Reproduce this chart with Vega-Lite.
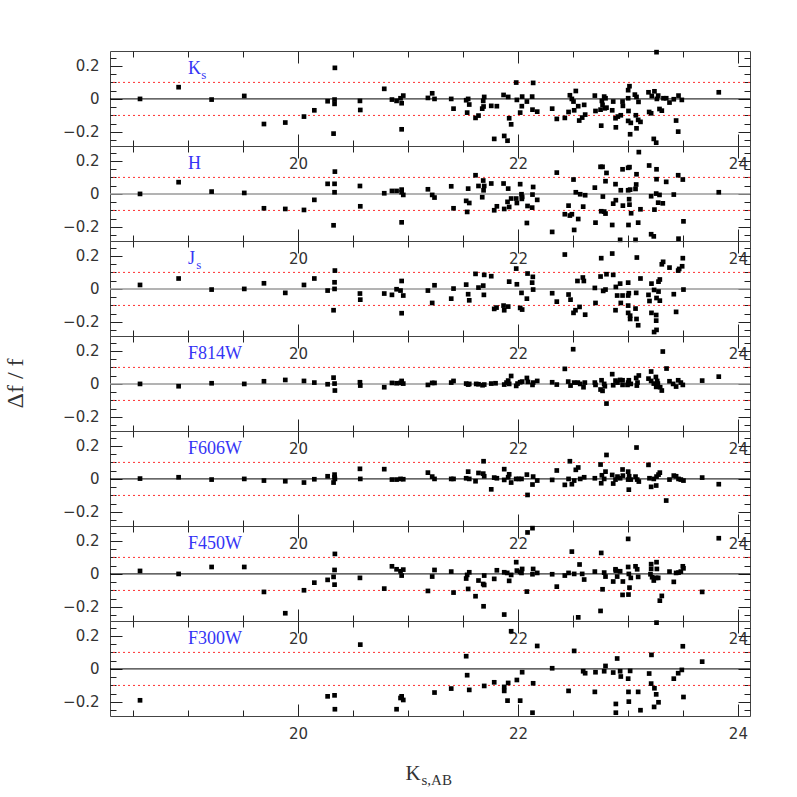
{
"$schema":"https://vega.github.io/schema/vega-lite/v6.json",
"background":"white",
"padding":{"left":2,"top":49,"right":5,"bottom":5},
"bounds":"flush",
"spacing":0,
"datasets":{"pts":[
{"b":"Ks","x":18.563,"y":0},{"b":"Ks","x":18.914,"y":0.071},{"b":"Ks","x":19.214,"y":-0.004},{"b":"Ks","x":19.511,"y":0.018},{"b":"Ks","x":19.69,"y":-0.152},{"b":"Ks","x":19.884,"y":-0.143},{"b":"Ks","x":20.054,"y":-0.107},{"b":"Ks","x":20.148,"y":-0.069},{"b":"Ks","x":20.269,"y":-0.014},{"b":"Ks","x":20.335,"y":0.188},{"b":"Ks","x":20.332,"y":-0.004},{"b":"Ks","x":20.332,"y":-0.03},{"b":"Ks","x":20.323,"y":-0.21},{"b":"Ks","x":20.563,"y":-0.012},{"b":"Ks","x":20.566,"y":-0.067},{"b":"Ks","x":20.784,"y":0.061},{"b":"Ks","x":20.854,"y":-0.004},{"b":"Ks","x":20.896,"y":-0.012},{"b":"Ks","x":20.932,"y":0.004},{"b":"Ks","x":20.957,"y":0.02},{"b":"Ks","x":20.942,"y":-0.026},{"b":"Ks","x":20.942,"y":-0.184},{"b":"Ks","x":21.181,"y":0.006},{"b":"Ks","x":21.22,"y":0.034},{"b":"Ks","x":21.241,"y":0},{"b":"Ks","x":21.393,"y":0},{"b":"Ks","x":21.414,"y":-0.059},{"b":"Ks","x":21.529,"y":-0.008},{"b":"Ks","x":21.547,"y":0},{"b":"Ks","x":21.557,"y":-0.034},{"b":"Ks","x":21.538,"y":-0.083},{"b":"Ks","x":21.614,"y":-0.115},{"b":"Ks","x":21.641,"y":-0.101},{"b":"Ks","x":21.693,"y":0.012},{"b":"Ks","x":21.684,"y":-0.012},{"b":"Ks","x":21.675,"y":-0.059},{"b":"Ks","x":21.687,"y":-0.046},{"b":"Ks","x":21.757,"y":-0.042},{"b":"Ks","x":21.808,"y":-0.044},{"b":"Ks","x":21.784,"y":-0.242},{"b":"Ks","x":21.875,"y":-0.224},{"b":"Ks","x":21.905,"y":-0.253},{"b":"Ks","x":21.869,"y":0.024},{"b":"Ks","x":21.911,"y":0.012},{"b":"Ks","x":21.92,"y":-0.117},{"b":"Ks","x":21.938,"y":-0.154},{"b":"Ks","x":21.984,"y":0.099},{"b":"Ks","x":21.99,"y":-0.006},{"b":"Ks","x":22.02,"y":-0.083},{"b":"Ks","x":22.038,"y":0.014},{"b":"Ks","x":22.035,"y":-0.044},{"b":"Ks","x":22.081,"y":-0.016},{"b":"Ks","x":22.129,"y":0.014},{"b":"Ks","x":22.138,"y":0.097},{"b":"Ks","x":22.132,"y":-0.065},{"b":"Ks","x":22.175,"y":-0.077},{"b":"Ks","x":22.311,"y":-0.059},{"b":"Ks","x":22.353,"y":-0.121},{"b":"Ks","x":22.426,"y":-0.115},{"b":"Ks","x":22.46,"y":-0.079},{"b":"Ks","x":22.472,"y":0.022},{"b":"Ks","x":22.49,"y":0},{"b":"Ks","x":22.505,"y":-0.016},{"b":"Ks","x":22.526,"y":0.048},{"b":"Ks","x":22.511,"y":-0.069},{"b":"Ks","x":22.548,"y":-0.044},{"b":"Ks","x":22.557,"y":-0.131},{"b":"Ks","x":22.584,"y":-0.113},{"b":"Ks","x":22.602,"y":-0.036},{"b":"Ks","x":22.611,"y":-0.095},{"b":"Ks","x":22.699,"y":0.02},{"b":"Ks","x":22.705,"y":-0.073},{"b":"Ks","x":22.751,"y":-0.065},{"b":"Ks","x":22.757,"y":-0.162},{"b":"Ks","x":22.763,"y":-0.012},{"b":"Ks","x":22.769,"y":-0.036},{"b":"Ks","x":22.784,"y":0.014},{"b":"Ks","x":22.796,"y":0.004},{"b":"Ks","x":22.805,"y":-0.053},{"b":"Ks","x":22.79,"y":-0.057},{"b":"Ks","x":22.866,"y":-0.016},{"b":"Ks","x":22.857,"y":-0.069},{"b":"Ks","x":22.887,"y":-0.117},{"b":"Ks","x":22.89,"y":-0.172},{"b":"Ks","x":22.908,"y":-0.107},{"b":"Ks","x":22.935,"y":-0.099},{"b":"Ks","x":22.951,"y":-0.016},{"b":"Ks","x":22.954,"y":-0.042},{"b":"Ks","x":23.002,"y":0.004},{"b":"Ks","x":23.002,"y":0.053},{"b":"Ks","x":23.014,"y":0.077},{"b":"Ks","x":23.005,"y":-0.073},{"b":"Ks","x":23.002,"y":-0.133},{"b":"Ks","x":23.02,"y":-0.214},{"b":"Ks","x":23.026,"y":-0.145},{"b":"Ks","x":23.063,"y":0.026},{"b":"Ks","x":23.072,"y":-0.099},{"b":"Ks","x":23.078,"y":0.012},{"b":"Ks","x":23.096,"y":-0.018},{"b":"Ks","x":23.093,"y":-0.127},{"b":"Ks","x":23.114,"y":-0.139},{"b":"Ks","x":23.078,"y":-0.178},{"b":"Ks","x":23.187,"y":0.04},{"b":"Ks","x":23.193,"y":-0.079},{"b":"Ks","x":23.211,"y":-0.087},{"b":"Ks","x":23.217,"y":0.018},{"b":"Ks","x":23.241,"y":0.046},{"b":"Ks","x":23.26,"y":0.283},{"b":"Ks","x":23.235,"y":-0.242},{"b":"Ks","x":23.257,"y":-0.265},{"b":"Ks","x":23.263,"y":0},{"b":"Ks","x":23.275,"y":0.02},{"b":"Ks","x":23.287,"y":-0.061},{"b":"Ks","x":23.308,"y":-0.071},{"b":"Ks","x":23.323,"y":0.004},{"b":"Ks","x":23.348,"y":0.004},{"b":"Ks","x":23.378,"y":-0.022},{"b":"Ks","x":23.417,"y":-0.002},{"b":"Ks","x":23.438,"y":-0.131},{"b":"Ks","x":23.46,"y":0.02},{"b":"Ks","x":23.457,"y":-0.198},{"b":"Ks","x":23.49,"y":-0.006},{"b":"Ks","x":23.826,"y":0.04},
{"b":"H","x":18.563,"y":0},{"b":"H","x":18.914,"y":0.071},{"b":"H","x":19.214,"y":0.014},{"b":"H","x":19.511,"y":0.006},{"b":"H","x":19.69,"y":-0.087},{"b":"H","x":19.884,"y":-0.091},{"b":"H","x":20.054,"y":-0.097},{"b":"H","x":20.148,"y":-0.036},{"b":"H","x":20.269,"y":0.061},{"b":"H","x":20.335,"y":0.135},{"b":"H","x":20.332,"y":0.061},{"b":"H","x":20.332,"y":0.01},{"b":"H","x":20.323,"y":-0.19},{"b":"H","x":20.563,"y":0.048},{"b":"H","x":20.566,"y":-0.075},{"b":"H","x":20.784,"y":0.004},{"b":"H","x":20.854,"y":0.018},{"b":"H","x":20.896,"y":0.018},{"b":"H","x":20.942,"y":0.026},{"b":"H","x":20.942,"y":0.01},{"b":"H","x":20.957,"y":-0.006},{"b":"H","x":20.942,"y":-0.172},{"b":"H","x":21.181,"y":0.028},{"b":"H","x":21.22,"y":-0.006},{"b":"H","x":21.241,"y":-0.022},{"b":"H","x":21.393,"y":0.046},{"b":"H","x":21.414,"y":-0.087},{"b":"H","x":21.529,"y":-0.042},{"b":"H","x":21.547,"y":0.032},{"b":"H","x":21.557,"y":-0.055},{"b":"H","x":21.538,"y":-0.109},{"b":"H","x":21.614,"y":0.113},{"b":"H","x":21.641,"y":0.048},{"b":"H","x":21.684,"y":0.081},{"b":"H","x":21.693,"y":0.048},{"b":"H","x":21.687,"y":0.022},{"b":"H","x":21.675,"y":-0.02},{"b":"H","x":21.757,"y":0.063},{"b":"H","x":21.784,"y":-0.099},{"b":"H","x":21.808,"y":-0.075},{"b":"H","x":21.875,"y":-0.091},{"b":"H","x":21.869,"y":0.063},{"b":"H","x":21.911,"y":0.032},{"b":"H","x":21.905,"y":-0.048},{"b":"H","x":21.92,"y":-0.079},{"b":"H","x":21.938,"y":-0.028},{"b":"H","x":21.984,"y":-0.028},{"b":"H","x":21.99,"y":-0.055},{"b":"H","x":22.02,"y":0.059},{"b":"H","x":22.032,"y":-0.002},{"b":"H","x":22.038,"y":-0.018},{"b":"H","x":22.035,"y":-0.03},{"b":"H","x":22.081,"y":-0.176},{"b":"H","x":22.087,"y":-0.073},{"b":"H","x":22.129,"y":-0.083},{"b":"H","x":22.138,"y":0.042},{"b":"H","x":22.132,"y":-0.004},{"b":"H","x":22.175,"y":-0.036},{"b":"H","x":22.311,"y":-0.23},{"b":"H","x":22.353,"y":0.129},{"b":"H","x":22.46,"y":-0.071},{"b":"H","x":22.426,"y":-0.123},{"b":"H","x":22.472,"y":-0.131},{"b":"H","x":22.49,"y":-0.123},{"b":"H","x":22.505,"y":0.087},{"b":"H","x":22.511,"y":-0.218},{"b":"H","x":22.526,"y":0.01},{"b":"H","x":22.548,"y":-0.152},{"b":"H","x":22.566,"y":-0.002},{"b":"H","x":22.593,"y":-0.077},{"b":"H","x":22.611,"y":-0.008},{"b":"H","x":22.699,"y":0.038},{"b":"H","x":22.705,"y":-0.174},{"b":"H","x":22.751,"y":0.164},{"b":"H","x":22.769,"y":0.164},{"b":"H","x":22.805,"y":0.127},{"b":"H","x":22.796,"y":0.077},{"b":"H","x":22.772,"y":-0.016},{"b":"H","x":22.757,"y":-0.105},{"b":"H","x":22.784,"y":-0.107},{"b":"H","x":22.796,"y":-0.119},{"b":"H","x":22.857,"y":-0.188},{"b":"H","x":22.866,"y":-0.059},{"b":"H","x":22.887,"y":0.059},{"b":"H","x":22.89,"y":-0.038},{"b":"H","x":22.929,"y":-0.278},{"b":"H","x":22.935,"y":0.022},{"b":"H","x":22.951,"y":0.149},{"b":"H","x":22.954,"y":-0.071},{"b":"H","x":23.002,"y":0.158},{"b":"H","x":23.014,"y":0.162},{"b":"H","x":23.002,"y":0.022},{"b":"H","x":23.02,"y":0.026},{"b":"H","x":23.011,"y":-0.032},{"b":"H","x":23.014,"y":-0.065},{"b":"H","x":23.029,"y":-0.117},{"b":"H","x":23.005,"y":-0.188},{"b":"H","x":23.069,"y":-0.278},{"b":"H","x":23.078,"y":0.119},{"b":"H","x":23.075,"y":0.057},{"b":"H","x":23.069,"y":0.03},{"b":"H","x":23.093,"y":-0.174},{"b":"H","x":23.114,"y":-0.093},{"b":"H","x":23.099,"y":0.253},{"b":"H","x":23.193,"y":0.172},{"b":"H","x":23.211,"y":-0.014},{"b":"H","x":23.211,"y":-0.244},{"b":"H","x":23.235,"y":-0.257},{"b":"H","x":23.241,"y":-0.095},{"b":"H","x":23.257,"y":0.002},{"b":"H","x":23.26,"y":0.149},{"b":"H","x":23.26,"y":0.089},{"b":"H","x":23.275,"y":-0.053},{"b":"H","x":23.287,"y":-0.006},{"b":"H","x":23.317,"y":-0.057},{"b":"H","x":23.348,"y":0.073},{"b":"H","x":23.417,"y":-0.004},{"b":"H","x":23.457,"y":0.113},{"b":"H","x":23.46,"y":-0.271},{"b":"H","x":23.499,"y":0.087},{"b":"H","x":23.505,"y":-0.166},{"b":"H","x":23.826,"y":0.01},
{"b":"Js","x":18.563,"y":0.024},{"b":"Js","x":18.914,"y":0.063},{"b":"Js","x":19.214,"y":-0.004},{"b":"Js","x":19.511,"y":0},{"b":"Js","x":19.69,"y":0.034},{"b":"Js","x":19.884,"y":-0.024},{"b":"Js","x":20.054,"y":0.024},{"b":"Js","x":20.148,"y":0.063},{"b":"Js","x":20.269,"y":-0.01},{"b":"Js","x":20.335,"y":0.111},{"b":"Js","x":20.332,"y":0.04},{"b":"Js","x":20.332,"y":0},{"b":"Js","x":20.323,"y":-0.129},{"b":"Js","x":20.563,"y":-0.028},{"b":"Js","x":20.566,"y":-0.065},{"b":"Js","x":20.784,"y":-0.028},{"b":"Js","x":20.854,"y":-0.036},{"b":"Js","x":20.896,"y":-0.002},{"b":"Js","x":20.932,"y":-0.01},{"b":"Js","x":20.942,"y":0.048},{"b":"Js","x":20.957,"y":-0.04},{"b":"Js","x":20.942,"y":-0.147},{"b":"Js","x":21.181,"y":-0.01},{"b":"Js","x":21.22,"y":-0.085},{"b":"Js","x":21.241,"y":0.022},{"b":"Js","x":21.393,"y":-0.059},{"b":"Js","x":21.414,"y":0.002},{"b":"Js","x":21.529,"y":0.026},{"b":"Js","x":21.547,"y":-0.032},{"b":"Js","x":21.557,"y":-0.069},{"b":"Js","x":21.614,"y":0.091},{"b":"Js","x":21.641,"y":0.008},{"b":"Js","x":21.684,"y":0.02},{"b":"Js","x":21.693,"y":0.085},{"b":"Js","x":21.69,"y":-0.036},{"b":"Js","x":21.757,"y":0.077},{"b":"Js","x":21.784,"y":-0.121},{"b":"Js","x":21.805,"y":-0.113},{"b":"Js","x":21.875,"y":-0.129},{"b":"Js","x":21.869,"y":-0.101},{"b":"Js","x":21.911,"y":-0.107},{"b":"Js","x":21.92,"y":0.044},{"b":"Js","x":21.984,"y":0.123},{"b":"Js","x":21.99,"y":0.028},{"b":"Js","x":22.02,"y":-0.115},{"b":"Js","x":22.032,"y":-0.024},{"b":"Js","x":22.038,"y":-0.125},{"b":"Js","x":22.081,"y":-0.059},{"b":"Js","x":22.087,"y":0.093},{"b":"Js","x":22.129,"y":0.038},{"b":"Js","x":22.135,"y":0.073},{"b":"Js","x":22.138,"y":-0.004},{"b":"Js","x":22.311,"y":-0.026},{"b":"Js","x":22.353,"y":-0.077},{"b":"Js","x":22.426,"y":0.208},{"b":"Js","x":22.46,"y":-0.034},{"b":"Js","x":22.478,"y":-0.065},{"b":"Js","x":22.505,"y":-0.145},{"b":"Js","x":22.523,"y":-0.129},{"b":"Js","x":22.56,"y":-0.109},{"b":"Js","x":22.541,"y":0.048},{"b":"Js","x":22.59,"y":0.069},{"b":"Js","x":22.599,"y":0.048},{"b":"Js","x":22.611,"y":-0.156},{"b":"Js","x":22.699,"y":0.006},{"b":"Js","x":22.705,"y":-0.085},{"b":"Js","x":22.751,"y":0.075},{"b":"Js","x":22.757,"y":0.186},{"b":"Js","x":22.775,"y":-0.012},{"b":"Js","x":22.796,"y":-0.004},{"b":"Js","x":22.805,"y":0.089},{"b":"Js","x":22.857,"y":0.214},{"b":"Js","x":22.866,"y":0.085},{"b":"Js","x":22.887,"y":-0.129},{"b":"Js","x":22.89,"y":0.012},{"b":"Js","x":22.902,"y":-0.04},{"b":"Js","x":22.935,"y":-0.085},{"b":"Js","x":22.951,"y":-0.04},{"b":"Js","x":22.929,"y":0.032},{"b":"Js","x":23.002,"y":0.038},{"b":"Js","x":23.002,"y":-0.04},{"b":"Js","x":23.008,"y":-0.026},{"b":"Js","x":23.002,"y":-0.101},{"b":"Js","x":23.002,"y":-0.145},{"b":"Js","x":23.02,"y":-0.162},{"b":"Js","x":23.02,"y":-0.182},{"b":"Js","x":23.069,"y":-0.119},{"b":"Js","x":23.075,"y":-0.024},{"b":"Js","x":23.081,"y":0.19},{"b":"Js","x":23.078,"y":-0.182},{"b":"Js","x":23.093,"y":-0.22},{"b":"Js","x":23.114,"y":0.063},{"b":"Js","x":23.187,"y":-0.036},{"b":"Js","x":23.196,"y":-0.073},{"b":"Js","x":23.214,"y":0.032},{"b":"Js","x":23.214,"y":-0.145},{"b":"Js","x":23.238,"y":-0.006},{"b":"Js","x":23.257,"y":-0.158},{"b":"Js","x":23.26,"y":-0.055},{"b":"Js","x":23.257,"y":-0.192},{"b":"Js","x":23.238,"y":-0.261},{"b":"Js","x":23.26,"y":-0.248},{"b":"Js","x":23.278,"y":-0.016},{"b":"Js","x":23.278,"y":0.044},{"b":"Js","x":23.29,"y":0.057},{"b":"Js","x":23.29,"y":-0.071},{"b":"Js","x":23.308,"y":0.149},{"b":"Js","x":23.32,"y":0.164},{"b":"Js","x":23.378,"y":0.129},{"b":"Js","x":23.417,"y":-0.032},{"b":"Js","x":23.438,"y":-0.139},{"b":"Js","x":23.457,"y":0.111},{"b":"Js","x":23.466,"y":0.121},{"b":"Js","x":23.493,"y":0.137},{"b":"Js","x":23.499,"y":0.186},{"b":"Js","x":23.505,"y":-0.004},
{"b":"F814W","x":18.563,"y":0},{"b":"F814W","x":18.914,"y":-0.014},{"b":"F814W","x":19.214,"y":0.004},{"b":"F814W","x":19.511,"y":0},{"b":"F814W","x":19.69,"y":0.016},{"b":"F814W","x":19.884,"y":0.024},{"b":"F814W","x":20.054,"y":0.018},{"b":"F814W","x":20.148,"y":0.008},{"b":"F814W","x":20.269,"y":-0.002},{"b":"F814W","x":20.323,"y":0.038},{"b":"F814W","x":20.332,"y":0.002},{"b":"F814W","x":20.335,"y":-0.04},{"b":"F814W","x":20.563,"y":0.01},{"b":"F814W","x":20.566,"y":-0.01},{"b":"F814W","x":20.784,"y":-0.02},{"b":"F814W","x":20.854,"y":0.006},{"b":"F814W","x":20.896,"y":0.004},{"b":"F814W","x":20.932,"y":0.006},{"b":"F814W","x":20.942,"y":0.018},{"b":"F814W","x":20.957,"y":0.002},{"b":"F814W","x":21.181,"y":-0.006},{"b":"F814W","x":21.22,"y":0.006},{"b":"F814W","x":21.241,"y":0.006},{"b":"F814W","x":21.393,"y":0.008},{"b":"F814W","x":21.414,"y":0.018},{"b":"F814W","x":21.529,"y":0.002},{"b":"F814W","x":21.547,"y":-0.004},{"b":"F814W","x":21.557,"y":0},{"b":"F814W","x":21.62,"y":0},{"b":"F814W","x":21.641,"y":-0.002},{"b":"F814W","x":21.678,"y":-0.008},{"b":"F814W","x":21.693,"y":-0.004},{"b":"F814W","x":21.757,"y":0.002},{"b":"F814W","x":21.796,"y":0.004},{"b":"F814W","x":21.875,"y":-0.004},{"b":"F814W","x":21.896,"y":0.008},{"b":"F814W","x":21.92,"y":0},{"b":"F814W","x":21.938,"y":0.048},{"b":"F814W","x":21.911,"y":0.02},{"b":"F814W","x":21.984,"y":-0.012},{"b":"F814W","x":21.996,"y":0.002},{"b":"F814W","x":22.02,"y":0.01},{"b":"F814W","x":22.038,"y":0.014},{"b":"F814W","x":22.081,"y":0.036},{"b":"F814W","x":22.09,"y":0.012},{"b":"F814W","x":22.132,"y":-0.006},{"b":"F814W","x":22.138,"y":0.008},{"b":"F814W","x":22.175,"y":0.018},{"b":"F814W","x":22.311,"y":0.01},{"b":"F814W","x":22.353,"y":-0.004},{"b":"F814W","x":22.426,"y":0.091},{"b":"F814W","x":22.457,"y":0.014},{"b":"F814W","x":22.478,"y":-0.01},{"b":"F814W","x":22.502,"y":0.21},{"b":"F814W","x":22.511,"y":0.008},{"b":"F814W","x":22.544,"y":0.008},{"b":"F814W","x":22.566,"y":0},{"b":"F814W","x":22.596,"y":-0.02},{"b":"F814W","x":22.608,"y":0.008},{"b":"F814W","x":22.699,"y":0.008},{"b":"F814W","x":22.705,"y":-0.006},{"b":"F814W","x":22.751,"y":-0.034},{"b":"F814W","x":22.76,"y":0.022},{"b":"F814W","x":22.769,"y":-0.042},{"b":"F814W","x":22.784,"y":0},{"b":"F814W","x":22.79,"y":-0.014},{"b":"F814W","x":22.805,"y":-0.119},{"b":"F814W","x":22.857,"y":0.059},{"b":"F814W","x":22.866,"y":-0.008},{"b":"F814W","x":22.887,"y":0.02},{"b":"F814W","x":22.905,"y":0.008},{"b":"F814W","x":22.929,"y":0.024},{"b":"F814W","x":22.951,"y":0.022},{"b":"F814W","x":22.951,"y":-0.006},{"b":"F814W","x":23.002,"y":0.008},{"b":"F814W","x":23.008,"y":0.022},{"b":"F814W","x":22.996,"y":-0.006},{"b":"F814W","x":23.026,"y":0},{"b":"F814W","x":23.075,"y":0.036},{"b":"F814W","x":23.081,"y":-0.01},{"b":"F814W","x":23.087,"y":0.008},{"b":"F814W","x":23.099,"y":0.051},{"b":"F814W","x":23.187,"y":0.032},{"b":"F814W","x":23.211,"y":0.075},{"b":"F814W","x":23.211,"y":0.018},{"b":"F814W","x":23.235,"y":0.002},{"b":"F814W","x":23.254,"y":0.042},{"b":"F814W","x":23.257,"y":-0.018},{"b":"F814W","x":23.266,"y":0.018},{"b":"F814W","x":23.272,"y":0.002},{"b":"F814W","x":23.293,"y":-0.02},{"b":"F814W","x":23.308,"y":-0.04},{"b":"F814W","x":23.317,"y":0.196},{"b":"F814W","x":23.351,"y":0.093},{"b":"F814W","x":23.378,"y":0.016},{"b":"F814W","x":23.411,"y":0},{"b":"F814W","x":23.438,"y":-0.016},{"b":"F814W","x":23.457,"y":0.022},{"b":"F814W","x":23.481,"y":0.008},{"b":"F814W","x":23.499,"y":-0.006},{"b":"F814W","x":23.675,"y":0.02},{"b":"F814W","x":23.826,"y":0.044},
{"b":"F606W","x":18.563,"y":0.002},{"b":"F606W","x":18.914,"y":0.01},{"b":"F606W","x":19.214,"y":-0.004},{"b":"F606W","x":19.511,"y":0},{"b":"F606W","x":19.69,"y":-0.01},{"b":"F606W","x":19.884,"y":-0.014},{"b":"F606W","x":20.054,"y":-0.022},{"b":"F606W","x":20.148,"y":-0.002},{"b":"F606W","x":20.269,"y":0.016},{"b":"F606W","x":20.332,"y":0.026},{"b":"F606W","x":20.332,"y":0.01},{"b":"F606W","x":20.335,"y":0},{"b":"F606W","x":20.323,"y":-0.022},{"b":"F606W","x":20.563,"y":0.061},{"b":"F606W","x":20.566,"y":0},{"b":"F606W","x":20.784,"y":0.059},{"b":"F606W","x":20.854,"y":-0.004},{"b":"F606W","x":20.896,"y":-0.004},{"b":"F606W","x":20.932,"y":0},{"b":"F606W","x":20.957,"y":-0.002},{"b":"F606W","x":21.181,"y":0.038},{"b":"F606W","x":21.22,"y":0.014},{"b":"F606W","x":21.241,"y":0},{"b":"F606W","x":21.393,"y":0},{"b":"F606W","x":21.414,"y":0},{"b":"F606W","x":21.529,"y":0.004},{"b":"F606W","x":21.547,"y":0.044},{"b":"F606W","x":21.557,"y":0},{"b":"F606W","x":21.614,"y":-0.014},{"b":"F606W","x":21.641,"y":0.036},{"b":"F606W","x":21.687,"y":0.107},{"b":"F606W","x":21.684,"y":0.032},{"b":"F606W","x":21.693,"y":0.016},{"b":"F606W","x":21.757,"y":-0.063},{"b":"F606W","x":21.784,"y":0.008},{"b":"F606W","x":21.808,"y":0.004},{"b":"F606W","x":21.875,"y":0.059},{"b":"F606W","x":21.875,"y":-0.006},{"b":"F606W","x":21.911,"y":0.01},{"b":"F606W","x":21.92,"y":0.028},{"b":"F606W","x":21.938,"y":-0.022},{"b":"F606W","x":21.984,"y":0},{"b":"F606W","x":22.008,"y":0},{"b":"F606W","x":22.032,"y":0},{"b":"F606W","x":22.081,"y":0.026},{"b":"F606W","x":22.087,"y":-0.097},{"b":"F606W","x":22.132,"y":-0.034},{"b":"F606W","x":22.138,"y":0.014},{"b":"F606W","x":22.175,"y":-0.01},{"b":"F606W","x":22.311,"y":-0.006},{"b":"F606W","x":22.353,"y":0.051},{"b":"F606W","x":22.426,"y":-0.036},{"b":"F606W","x":22.46,"y":0},{"b":"F606W","x":22.472,"y":0.107},{"b":"F606W","x":22.49,"y":-0.032},{"b":"F606W","x":22.511,"y":-0.01},{"b":"F606W","x":22.526,"y":0.055},{"b":"F606W","x":22.548,"y":0.069},{"b":"F606W","x":22.566,"y":0},{"b":"F606W","x":22.602,"y":0.01},{"b":"F606W","x":22.699,"y":0.004},{"b":"F606W","x":22.751,"y":0.087},{"b":"F606W","x":22.757,"y":-0.026},{"b":"F606W","x":22.763,"y":0.022},{"b":"F606W","x":22.784,"y":0},{"b":"F606W","x":22.796,"y":0.044},{"b":"F606W","x":22.805,"y":0.145},{"b":"F606W","x":22.857,"y":0.024},{"b":"F606W","x":22.866,"y":-0.028},{"b":"F606W","x":22.887,"y":-0.004},{"b":"F606W","x":22.905,"y":0.014},{"b":"F606W","x":22.929,"y":0.004},{"b":"F606W","x":22.951,"y":0.057},{"b":"F606W","x":22.954,"y":0.02},{"b":"F606W","x":23.002,"y":0.044},{"b":"F606W","x":23.002,"y":-0.004},{"b":"F606W","x":23.011,"y":0.016},{"b":"F606W","x":23.008,"y":-0.065},{"b":"F606W","x":23.026,"y":-0.004},{"b":"F606W","x":23.069,"y":0.014},{"b":"F606W","x":23.078,"y":0.19},{"b":"F606W","x":23.084,"y":-0.004},{"b":"F606W","x":23.099,"y":-0.016},{"b":"F606W","x":23.187,"y":0.085},{"b":"F606W","x":23.196,"y":0.004},{"b":"F606W","x":23.211,"y":-0.048},{"b":"F606W","x":23.235,"y":0},{"b":"F606W","x":23.257,"y":-0.04},{"b":"F606W","x":23.26,"y":0.014},{"b":"F606W","x":23.278,"y":0.026},{"b":"F606W","x":23.29,"y":0.038},{"b":"F606W","x":23.348,"y":-0.131},{"b":"F606W","x":23.378,"y":-0.004},{"b":"F606W","x":23.417,"y":0.02},{"b":"F606W","x":23.438,"y":0.016},{"b":"F606W","x":23.46,"y":0},{"b":"F606W","x":23.481,"y":-0.004},{"b":"F606W","x":23.505,"y":-0.01},{"b":"F606W","x":23.675,"y":0.008},{"b":"F606W","x":23.826,"y":-0.032},
{"b":"F450W","x":18.563,"y":0.018},{"b":"F450W","x":18.914,"y":0},{"b":"F450W","x":19.214,"y":0.042},{"b":"F450W","x":19.511,"y":0.042},{"b":"F450W","x":19.69,"y":-0.109},{"b":"F450W","x":19.884,"y":-0.238},{"b":"F450W","x":20.054,"y":-0.099},{"b":"F450W","x":20.148,"y":-0.053},{"b":"F450W","x":20.269,"y":-0.036},{"b":"F450W","x":20.335,"y":0.121},{"b":"F450W","x":20.332,"y":0.024},{"b":"F450W","x":20.323,"y":-0.018},{"b":"F450W","x":20.332,"y":-0.065},{"b":"F450W","x":20.563,"y":-0.024},{"b":"F450W","x":20.784,"y":-0.089},{"b":"F450W","x":20.854,"y":0.046},{"b":"F450W","x":20.896,"y":0.028},{"b":"F450W","x":20.932,"y":0.016},{"b":"F450W","x":20.957,"y":0.026},{"b":"F450W","x":20.942,"y":-0.01},{"b":"F450W","x":21.181,"y":-0.103},{"b":"F450W","x":21.22,"y":-0.016},{"b":"F450W","x":21.241,"y":0.024},{"b":"F450W","x":21.393,"y":0.014},{"b":"F450W","x":21.414,"y":-0.113},{"b":"F450W","x":21.529,"y":-0.028},{"b":"F450W","x":21.547,"y":-0.091},{"b":"F450W","x":21.557,"y":0.01},{"b":"F450W","x":21.538,"y":-0.006},{"b":"F450W","x":21.614,"y":-0.135},{"b":"F450W","x":21.641,"y":-0.04},{"b":"F450W","x":21.684,"y":-0.061},{"b":"F450W","x":21.687,"y":-0.196},{"b":"F450W","x":21.693,"y":-0.01},{"b":"F450W","x":21.693,"y":-0.067},{"b":"F450W","x":21.784,"y":-0.03},{"b":"F450W","x":21.808,"y":0.022},{"b":"F450W","x":21.875,"y":-0.246},{"b":"F450W","x":21.875,"y":0.01},{"b":"F450W","x":21.902,"y":0.006},{"b":"F450W","x":21.92,"y":-0.042},{"b":"F450W","x":21.938,"y":-0.006},{"b":"F450W","x":21.984,"y":0.071},{"b":"F450W","x":21.99,"y":0.02},{"b":"F450W","x":22.02,"y":0.012},{"b":"F450W","x":22.038,"y":0.03},{"b":"F450W","x":22.032,"y":0.006},{"b":"F450W","x":22.081,"y":-0.107},{"b":"F450W","x":22.087,"y":0.251},{"b":"F450W","x":22.132,"y":0.277},{"b":"F450W","x":22.138,"y":0.03},{"b":"F450W","x":22.132,"y":-0.002},{"b":"F450W","x":22.175,"y":0.006},{"b":"F450W","x":22.311,"y":-0.002},{"b":"F450W","x":22.353,"y":-0.077},{"b":"F450W","x":22.426,"y":-0.01},{"b":"F450W","x":22.46,"y":0.006},{"b":"F450W","x":22.49,"y":0.135},{"b":"F450W","x":22.511,"y":0},{"b":"F450W","x":22.548,"y":-0.263},{"b":"F450W","x":22.56,"y":0.057},{"b":"F450W","x":22.584,"y":0},{"b":"F450W","x":22.602,"y":-0.034},{"b":"F450W","x":22.699,"y":0.014},{"b":"F450W","x":22.751,"y":-0.224},{"b":"F450W","x":22.757,"y":0.127},{"b":"F450W","x":22.769,"y":-0.093},{"b":"F450W","x":22.784,"y":0.008},{"b":"F450W","x":22.796,"y":-0.016},{"b":"F450W","x":22.866,"y":-0.046},{"b":"F450W","x":22.887,"y":0.028},{"b":"F450W","x":22.89,"y":0.02},{"b":"F450W","x":22.902,"y":-0.016},{"b":"F450W","x":22.929,"y":0.016},{"b":"F450W","x":22.951,"y":-0.127},{"b":"F450W","x":22.954,"y":-0.046},{"b":"F450W","x":23.002,"y":0.212},{"b":"F450W","x":23.002,"y":0.042},{"b":"F450W","x":23.008,"y":0},{"b":"F450W","x":23.005,"y":-0.125},{"b":"F450W","x":23.014,"y":-0.083},{"b":"F450W","x":23.026,"y":-0.024},{"b":"F450W","x":23.069,"y":0.046},{"b":"F450W","x":23.084,"y":0.028},{"b":"F450W","x":23.093,"y":-0.018},{"b":"F450W","x":23.211,"y":0.059},{"b":"F450W","x":23.211,"y":0.03},{"b":"F450W","x":23.205,"y":-0.002},{"b":"F450W","x":23.22,"y":-0.02},{"b":"F450W","x":23.235,"y":-0.04},{"b":"F450W","x":23.26,"y":0.071},{"b":"F450W","x":23.263,"y":0.03},{"b":"F450W","x":23.257,"y":-0.024},{"b":"F450W","x":23.275,"y":-0.024},{"b":"F450W","x":23.29,"y":-0.162},{"b":"F450W","x":23.308,"y":-0.133},{"b":"F450W","x":23.378,"y":0.014},{"b":"F450W","x":23.417,"y":-0.048},{"b":"F450W","x":23.438,"y":0.006},{"b":"F450W","x":23.46,"y":0.008},{"b":"F450W","x":23.481,"y":0.014},{"b":"F450W","x":23.499,"y":0.046},{"b":"F450W","x":23.505,"y":0.034},{"b":"F450W","x":23.675,"y":-0.109},{"b":"F450W","x":23.826,"y":0.216},
{"b":"F300W","x":18.563,"y":-0.19},{"b":"F300W","x":20.269,"y":-0.166},{"b":"F300W","x":20.332,"y":-0.16},{"b":"F300W","x":20.335,"y":-0.244},{"b":"F300W","x":20.566,"y":0.147},{"b":"F300W","x":20.896,"y":-0.244},{"b":"F300W","x":20.932,"y":-0.176},{"b":"F300W","x":20.942,"y":-0.166},{"b":"F300W","x":20.957,"y":-0.188},{"b":"F300W","x":21.241,"y":-0.143},{"b":"F300W","x":21.393,"y":-0.119},{"b":"F300W","x":21.529,"y":0.077},{"b":"F300W","x":21.538,"y":-0.038},{"b":"F300W","x":21.557,"y":-0.127},{"b":"F300W","x":21.693,"y":-0.103},{"b":"F300W","x":21.784,"y":-0.081},{"b":"F300W","x":21.875,"y":-0.133},{"b":"F300W","x":21.875,"y":-0.109},{"b":"F300W","x":21.911,"y":-0.085},{"b":"F300W","x":21.905,"y":-0.192},{"b":"F300W","x":21.938,"y":0.228},{"b":"F300W","x":21.99,"y":-0.067},{"b":"F300W","x":22.02,"y":-0.192},{"b":"F300W","x":22.038,"y":-0.02},{"b":"F300W","x":22.132,"y":-0.265},{"b":"F300W","x":22.138,"y":-0.087},{"b":"F300W","x":22.175,"y":0.139},{"b":"F300W","x":22.311,"y":0.004},{"b":"F300W","x":22.46,"y":-0.133},{"b":"F300W","x":22.511,"y":0.109},{"b":"F300W","x":22.593,"y":-0.014},{"b":"F300W","x":22.611,"y":-0.026},{"b":"F300W","x":22.699,"y":-0.139},{"b":"F300W","x":22.705,"y":-0.02},{"b":"F300W","x":22.784,"y":-0.014},{"b":"F300W","x":22.796,"y":0.018},{"b":"F300W","x":22.866,"y":-0.022},{"b":"F300W","x":22.89,"y":-0.212},{"b":"F300W","x":22.89,"y":-0.265},{"b":"F300W","x":22.902,"y":0.063},{"b":"F300W","x":22.929,"y":-0.014},{"b":"F300W","x":22.935,"y":-0.046},{"b":"F300W","x":23.002,"y":-0.059},{"b":"F300W","x":23.005,"y":-0.139},{"b":"F300W","x":23.008,"y":-0.198},{"b":"F300W","x":23.02,"y":-0.012},{"b":"F300W","x":23.093,"y":-0.139},{"b":"F300W","x":23.114,"y":-0.25},{"b":"F300W","x":23.193,"y":-0.028},{"b":"F300W","x":23.211,"y":-0.089},{"b":"F300W","x":23.214,"y":0.085},{"b":"F300W","x":23.238,"y":-0.23},{"b":"F300W","x":23.241,"y":-0.117},{"b":"F300W","x":23.257,"y":-0.154},{"b":"F300W","x":23.278,"y":-0.202},{"b":"F300W","x":23.26,"y":0.28},{"b":"F300W","x":23.417,"y":-0.059},{"b":"F300W","x":23.457,"y":-0.026},{"b":"F300W","x":23.49,"y":-0.006},{"b":"F300W","x":23.499,"y":0.137},{"b":"F300W","x":23.505,"y":-0.17},{"b":"F300W","x":23.675,"y":0.044}
]},
"vconcat":[
{"width":640,"height":95,"resolve":{"axis":{"x":"independent","y":"independent"}},"layer":[
{"data":{"values":[{"v":0.1},{"v":-0.1}]},"mark":{"type":"rule","color":"#ff3030","strokeDash":[2,3],"strokeWidth":1},"encoding":{"y":{"field":"v","type":"quantitative","axis":null,"scale":{"domain":[-0.285,0.29],"nice":false,"zero":false}}}},
{"data":{"values":[{"v":0}]},"mark":{"type":"rule","color":"#000000","strokeWidth":1},"encoding":{"y":{"field":"v","type":"quantitative","axis":null}}},
{"data":{"name":"pts"},"transform":[{"filter":"datum.b=='Ks'"}],"mark":{"type":"square","size":22,"color":"#000000","opacity":1,"strokeWidth":0},"encoding":{"x":{"field":"x","type":"quantitative","scale":{"domain":[18.29,24.11],"nice":false,"zero":false},"axis":{"orient":"bottom","title":null,"values":[18.5,19,19.5,20,20.5,21,21.5,22,22.5,23,23.5,24],"labelExpr":"datum.value==20?'20':datum.value==22?'22':datum.value==24?'24':''","tickSize":{"condition":{"test":"datum.value==20||datum.value==22||datum.value==24","value":-12},"value":-6},"labelPadding":22}},"y":{"field":"y","type":"quantitative","scale":{"domain":[-0.285,0.29],"nice":false,"zero":false},"axis":{"orient":"left","title":null,"values":[-0.25,-0.2,-0.15,-0.1,-0.05,0,0.05,0.1,0.15,0.2,0.25],"labelExpr":"datum.value==0?'0':datum.value==0.2?'0.2':datum.value==-0.2?'−0.2':''","tickSize":{"condition":{"test":"datum.value==0||abs(datum.value)==0.2","value":-12},"value":-6},"labelPadding":23}}}},
{"data":{"name":"pts"},"transform":[{"filter":"datum.b=='Ks'"}],"mark":{"type":"square","size":22,"opacity":0},"encoding":{"x":{"field":"x","type":"quantitative","axis":{"orient":"top","title":null,"labels":false,"values":[18.5,19,19.5,20,20.5,21,21.5,22,22.5,23,23.5,24],"tickSize":{"condition":{"test":"datum.value==20||datum.value==22||datum.value==24","value":-12},"value":-6}}},"y":{"field":"y","type":"quantitative","axis":{"orient":"right","title":null,"labels":false,"values":[-0.25,-0.2,-0.15,-0.1,-0.05,0,0.05,0.1,0.15,0.2,0.25],"tickSize":{"condition":{"test":"datum.value==0||abs(datum.value)==0.2","value":-12},"value":-6}}}}},
{"data":{"values":[{"t":"K"}]},"mark":{"type":"text","font":"Liberation Serif","fontSize":18,"color":"#3535f5","align":"left","baseline":"alphabetic"},"encoding":{"text":{"field":"t"},"x":{"datum":19.0,"axis":null},"y":{"datum":0.148,"axis":null}}},
{"data":{"values":[{"t":"s"}]},"mark":{"type":"text","font":"Liberation Serif","fontSize":13,"color":"#3535f5","align":"left","baseline":"alphabetic"},"encoding":{"text":{"field":"t"},"x":{"datum":19.12,"axis":null},"y":{"datum":0.118,"axis":null}}}
]},
{"width":640,"height":95,"resolve":{"axis":{"x":"independent","y":"independent"}},"layer":[
{"data":{"values":[{"v":0.1},{"v":-0.1}]},"mark":{"type":"rule","color":"#ff3030","strokeDash":[2,3],"strokeWidth":1},"encoding":{"y":{"field":"v","type":"quantitative","axis":null,"scale":{"domain":[-0.285,0.29],"nice":false,"zero":false}}}},
{"data":{"values":[{"v":0}]},"mark":{"type":"rule","color":"#9a9a9a","strokeWidth":1.5},"encoding":{"y":{"field":"v","type":"quantitative","axis":null}}},
{"data":{"name":"pts"},"transform":[{"filter":"datum.b=='H'"}],"mark":{"type":"square","size":22,"color":"#000000","opacity":1,"strokeWidth":0},"encoding":{"x":{"field":"x","type":"quantitative","scale":{"domain":[18.29,24.11],"nice":false,"zero":false},"axis":{"orient":"bottom","title":null,"values":[18.5,19,19.5,20,20.5,21,21.5,22,22.5,23,23.5,24],"labelExpr":"datum.value==20?'20':datum.value==22?'22':datum.value==24?'24':''","tickSize":{"condition":{"test":"datum.value==20||datum.value==22||datum.value==24","value":-12},"value":-6},"labelPadding":22}},"y":{"field":"y","type":"quantitative","scale":{"domain":[-0.285,0.29],"nice":false,"zero":false},"axis":{"orient":"left","title":null,"values":[-0.25,-0.2,-0.15,-0.1,-0.05,0,0.05,0.1,0.15,0.2,0.25],"labelExpr":"datum.value==0?'0':datum.value==0.2?'0.2':datum.value==-0.2?'−0.2':''","tickSize":{"condition":{"test":"datum.value==0||abs(datum.value)==0.2","value":-12},"value":-6},"labelPadding":23}}}},
{"data":{"name":"pts"},"transform":[{"filter":"datum.b=='H'"}],"mark":{"type":"square","size":22,"opacity":0},"encoding":{"x":{"field":"x","type":"quantitative","axis":{"orient":"top","title":null,"labels":false,"values":[18.5,19,19.5,20,20.5,21,21.5,22,22.5,23,23.5,24],"tickSize":{"condition":{"test":"datum.value==20||datum.value==22||datum.value==24","value":-12},"value":-6}}},"y":{"field":"y","type":"quantitative","axis":{"orient":"right","title":null,"labels":false,"values":[-0.25,-0.2,-0.15,-0.1,-0.05,0,0.05,0.1,0.15,0.2,0.25],"tickSize":{"condition":{"test":"datum.value==0||abs(datum.value)==0.2","value":-12},"value":-6}}}}},
{"data":{"values":[{"t":"H"}]},"mark":{"type":"text","font":"Liberation Serif","fontSize":18,"color":"#3535f5","align":"left","baseline":"alphabetic"},"encoding":{"text":{"field":"t"},"x":{"datum":19.0,"axis":null},"y":{"datum":0.148,"axis":null}}}
]},
{"width":640,"height":95,"resolve":{"axis":{"x":"independent","y":"independent"}},"layer":[
{"data":{"values":[{"v":0.1},{"v":-0.1}]},"mark":{"type":"rule","color":"#ff3030","strokeDash":[2,3],"strokeWidth":1},"encoding":{"y":{"field":"v","type":"quantitative","axis":null,"scale":{"domain":[-0.285,0.29],"nice":false,"zero":false}}}},
{"data":{"values":[{"v":0}]},"mark":{"type":"rule","color":"#9a9a9a","strokeWidth":1.5},"encoding":{"y":{"field":"v","type":"quantitative","axis":null}}},
{"data":{"name":"pts"},"transform":[{"filter":"datum.b=='Js'"}],"mark":{"type":"square","size":22,"color":"#000000","opacity":1,"strokeWidth":0},"encoding":{"x":{"field":"x","type":"quantitative","scale":{"domain":[18.29,24.11],"nice":false,"zero":false},"axis":{"orient":"bottom","title":null,"values":[18.5,19,19.5,20,20.5,21,21.5,22,22.5,23,23.5,24],"labelExpr":"datum.value==20?'20':datum.value==22?'22':datum.value==24?'24':''","tickSize":{"condition":{"test":"datum.value==20||datum.value==22||datum.value==24","value":-12},"value":-6},"labelPadding":22}},"y":{"field":"y","type":"quantitative","scale":{"domain":[-0.285,0.29],"nice":false,"zero":false},"axis":{"orient":"left","title":null,"values":[-0.25,-0.2,-0.15,-0.1,-0.05,0,0.05,0.1,0.15,0.2,0.25],"labelExpr":"datum.value==0?'0':datum.value==0.2?'0.2':datum.value==-0.2?'−0.2':''","tickSize":{"condition":{"test":"datum.value==0||abs(datum.value)==0.2","value":-12},"value":-6},"labelPadding":23}}}},
{"data":{"name":"pts"},"transform":[{"filter":"datum.b=='Js'"}],"mark":{"type":"square","size":22,"opacity":0},"encoding":{"x":{"field":"x","type":"quantitative","axis":{"orient":"top","title":null,"labels":false,"values":[18.5,19,19.5,20,20.5,21,21.5,22,22.5,23,23.5,24],"tickSize":{"condition":{"test":"datum.value==20||datum.value==22||datum.value==24","value":-12},"value":-6}}},"y":{"field":"y","type":"quantitative","axis":{"orient":"right","title":null,"labels":false,"values":[-0.25,-0.2,-0.15,-0.1,-0.05,0,0.05,0.1,0.15,0.2,0.25],"tickSize":{"condition":{"test":"datum.value==0||abs(datum.value)==0.2","value":-12},"value":-6}}}}},
{"data":{"values":[{"t":"J"}]},"mark":{"type":"text","font":"Liberation Serif","fontSize":18,"color":"#3535f5","align":"left","baseline":"alphabetic"},"encoding":{"text":{"field":"t"},"x":{"datum":19.0,"axis":null},"y":{"datum":0.148,"axis":null}}},
{"data":{"values":[{"t":"s"}]},"mark":{"type":"text","font":"Liberation Serif","fontSize":13,"color":"#3535f5","align":"left","baseline":"alphabetic"},"encoding":{"text":{"field":"t"},"x":{"datum":19.075,"axis":null},"y":{"datum":0.118,"axis":null}}}
]},
{"width":640,"height":95,"resolve":{"axis":{"x":"independent","y":"independent"}},"layer":[
{"data":{"values":[{"v":0.1},{"v":-0.1}]},"mark":{"type":"rule","color":"#ff3030","strokeDash":[2,3],"strokeWidth":1},"encoding":{"y":{"field":"v","type":"quantitative","axis":null,"scale":{"domain":[-0.285,0.29],"nice":false,"zero":false}}}},
{"data":{"values":[{"v":0}]},"mark":{"type":"rule","color":"#9a9a9a","strokeWidth":1.5},"encoding":{"y":{"field":"v","type":"quantitative","axis":null}}},
{"data":{"name":"pts"},"transform":[{"filter":"datum.b=='F814W'"}],"mark":{"type":"square","size":22,"color":"#000000","opacity":1,"strokeWidth":0},"encoding":{"x":{"field":"x","type":"quantitative","scale":{"domain":[18.29,24.11],"nice":false,"zero":false},"axis":{"orient":"bottom","title":null,"values":[18.5,19,19.5,20,20.5,21,21.5,22,22.5,23,23.5,24],"labelExpr":"datum.value==20?'20':datum.value==22?'22':datum.value==24?'24':''","tickSize":{"condition":{"test":"datum.value==20||datum.value==22||datum.value==24","value":-12},"value":-6},"labelPadding":22}},"y":{"field":"y","type":"quantitative","scale":{"domain":[-0.285,0.29],"nice":false,"zero":false},"axis":{"orient":"left","title":"Δf / f","titleFontSize":24,"titleX":-88,"titleY":47,"titleAngle":-90,"titleAlign":"center","titleBaseline":"alphabetic","values":[-0.25,-0.2,-0.15,-0.1,-0.05,0,0.05,0.1,0.15,0.2,0.25],"labelExpr":"datum.value==0?'0':datum.value==0.2?'0.2':datum.value==-0.2?'−0.2':''","tickSize":{"condition":{"test":"datum.value==0||abs(datum.value)==0.2","value":-12},"value":-6},"labelPadding":23}}}},
{"data":{"name":"pts"},"transform":[{"filter":"datum.b=='F814W'"}],"mark":{"type":"square","size":22,"opacity":0},"encoding":{"x":{"field":"x","type":"quantitative","axis":{"orient":"top","title":null,"labels":false,"values":[18.5,19,19.5,20,20.5,21,21.5,22,22.5,23,23.5,24],"tickSize":{"condition":{"test":"datum.value==20||datum.value==22||datum.value==24","value":-12},"value":-6}}},"y":{"field":"y","type":"quantitative","axis":{"orient":"right","title":null,"labels":false,"values":[-0.25,-0.2,-0.15,-0.1,-0.05,0,0.05,0.1,0.15,0.2,0.25],"tickSize":{"condition":{"test":"datum.value==0||abs(datum.value)==0.2","value":-12},"value":-6}}}}},
{"data":{"values":[{"t":"F814W"}]},"mark":{"type":"text","font":"Liberation Serif","fontSize":18,"color":"#3535f5","align":"left","baseline":"alphabetic"},"encoding":{"text":{"field":"t"},"x":{"datum":19.0,"axis":null},"y":{"datum":0.148,"axis":null}}}
]},
{"width":640,"height":95,"resolve":{"axis":{"x":"independent","y":"independent"}},"layer":[
{"data":{"values":[{"v":0.1},{"v":-0.1}]},"mark":{"type":"rule","color":"#ff3030","strokeDash":[2,3],"strokeWidth":1},"encoding":{"y":{"field":"v","type":"quantitative","axis":null,"scale":{"domain":[-0.285,0.29],"nice":false,"zero":false}}}},
{"data":{"values":[{"v":0}]},"mark":{"type":"rule","color":"#000000","strokeWidth":1},"encoding":{"y":{"field":"v","type":"quantitative","axis":null}}},
{"data":{"name":"pts"},"transform":[{"filter":"datum.b=='F606W'"}],"mark":{"type":"square","size":22,"color":"#000000","opacity":1,"strokeWidth":0},"encoding":{"x":{"field":"x","type":"quantitative","scale":{"domain":[18.29,24.11],"nice":false,"zero":false},"axis":{"orient":"bottom","title":null,"values":[18.5,19,19.5,20,20.5,21,21.5,22,22.5,23,23.5,24],"labelExpr":"datum.value==20?'20':datum.value==22?'22':datum.value==24?'24':''","tickSize":{"condition":{"test":"datum.value==20||datum.value==22||datum.value==24","value":-12},"value":-6},"labelPadding":22}},"y":{"field":"y","type":"quantitative","scale":{"domain":[-0.285,0.29],"nice":false,"zero":false},"axis":{"orient":"left","title":null,"values":[-0.25,-0.2,-0.15,-0.1,-0.05,0,0.05,0.1,0.15,0.2,0.25],"labelExpr":"datum.value==0?'0':datum.value==0.2?'0.2':datum.value==-0.2?'−0.2':''","tickSize":{"condition":{"test":"datum.value==0||abs(datum.value)==0.2","value":-12},"value":-6},"labelPadding":23}}}},
{"data":{"name":"pts"},"transform":[{"filter":"datum.b=='F606W'"}],"mark":{"type":"square","size":22,"opacity":0},"encoding":{"x":{"field":"x","type":"quantitative","axis":{"orient":"top","title":null,"labels":false,"values":[18.5,19,19.5,20,20.5,21,21.5,22,22.5,23,23.5,24],"tickSize":{"condition":{"test":"datum.value==20||datum.value==22||datum.value==24","value":-12},"value":-6}}},"y":{"field":"y","type":"quantitative","axis":{"orient":"right","title":null,"labels":false,"values":[-0.25,-0.2,-0.15,-0.1,-0.05,0,0.05,0.1,0.15,0.2,0.25],"tickSize":{"condition":{"test":"datum.value==0||abs(datum.value)==0.2","value":-12},"value":-6}}}}},
{"data":{"values":[{"t":"F606W"}]},"mark":{"type":"text","font":"Liberation Serif","fontSize":18,"color":"#3535f5","align":"left","baseline":"alphabetic"},"encoding":{"text":{"field":"t"},"x":{"datum":19.0,"axis":null},"y":{"datum":0.148,"axis":null}}}
]},
{"width":640,"height":95,"resolve":{"axis":{"x":"independent","y":"independent"}},"layer":[
{"data":{"values":[{"v":0.1},{"v":-0.1}]},"mark":{"type":"rule","color":"#ff3030","strokeDash":[2,3],"strokeWidth":1},"encoding":{"y":{"field":"v","type":"quantitative","axis":null,"scale":{"domain":[-0.285,0.29],"nice":false,"zero":false}}}},
{"data":{"values":[{"v":0}]},"mark":{"type":"rule","color":"#000000","strokeWidth":1},"encoding":{"y":{"field":"v","type":"quantitative","axis":null}}},
{"data":{"name":"pts"},"transform":[{"filter":"datum.b=='F450W'"}],"mark":{"type":"square","size":22,"color":"#000000","opacity":1,"strokeWidth":0},"encoding":{"x":{"field":"x","type":"quantitative","scale":{"domain":[18.29,24.11],"nice":false,"zero":false},"axis":{"orient":"bottom","title":null,"values":[18.5,19,19.5,20,20.5,21,21.5,22,22.5,23,23.5,24],"labelExpr":"datum.value==20?'20':datum.value==22?'22':datum.value==24?'24':''","tickSize":{"condition":{"test":"datum.value==20||datum.value==22||datum.value==24","value":-12},"value":-6},"labelPadding":22}},"y":{"field":"y","type":"quantitative","scale":{"domain":[-0.285,0.29],"nice":false,"zero":false},"axis":{"orient":"left","title":null,"values":[-0.25,-0.2,-0.15,-0.1,-0.05,0,0.05,0.1,0.15,0.2,0.25],"labelExpr":"datum.value==0?'0':datum.value==0.2?'0.2':datum.value==-0.2?'−0.2':''","tickSize":{"condition":{"test":"datum.value==0||abs(datum.value)==0.2","value":-12},"value":-6},"labelPadding":23}}}},
{"data":{"name":"pts"},"transform":[{"filter":"datum.b=='F450W'"}],"mark":{"type":"square","size":22,"opacity":0},"encoding":{"x":{"field":"x","type":"quantitative","axis":{"orient":"top","title":null,"labels":false,"values":[18.5,19,19.5,20,20.5,21,21.5,22,22.5,23,23.5,24],"tickSize":{"condition":{"test":"datum.value==20||datum.value==22||datum.value==24","value":-12},"value":-6}}},"y":{"field":"y","type":"quantitative","axis":{"orient":"right","title":null,"labels":false,"values":[-0.25,-0.2,-0.15,-0.1,-0.05,0,0.05,0.1,0.15,0.2,0.25],"tickSize":{"condition":{"test":"datum.value==0||abs(datum.value)==0.2","value":-12},"value":-6}}}}},
{"data":{"values":[{"t":"F450W"}]},"mark":{"type":"text","font":"Liberation Serif","fontSize":18,"color":"#3535f5","align":"left","baseline":"alphabetic"},"encoding":{"text":{"field":"t"},"x":{"datum":19.0,"axis":null},"y":{"datum":0.148,"axis":null}}}
]},
{"width":640,"height":95,"resolve":{"axis":{"x":"independent","y":"independent"}},"layer":[
{"data":{"values":[{"v":0.1},{"v":-0.1}]},"mark":{"type":"rule","color":"#ff3030","strokeDash":[2,3],"strokeWidth":1},"encoding":{"y":{"field":"v","type":"quantitative","axis":null,"scale":{"domain":[-0.285,0.29],"nice":false,"zero":false}}}},
{"data":{"values":[{"v":0}]},"mark":{"type":"rule","color":"#000000","strokeWidth":1},"encoding":{"y":{"field":"v","type":"quantitative","axis":null}}},
{"data":{"name":"pts"},"transform":[{"filter":"datum.b=='F300W'"}],"mark":{"type":"square","size":22,"color":"#000000","opacity":1,"strokeWidth":0},"encoding":{"x":{"field":"x","type":"quantitative","scale":{"domain":[18.29,24.11],"nice":false,"zero":false},"axis":{"orient":"bottom","title":"K","titleFontSize":21,"titleX":295,"titleY":63,"titleAlign":"left","titleBaseline":"alphabetic","values":[18.5,19,19.5,20,20.5,21,21.5,22,22.5,23,23.5,24],"labelExpr":"datum.value==20?'20':datum.value==22?'22':datum.value==24?'24':''","tickSize":{"condition":{"test":"datum.value==20||datum.value==22||datum.value==24","value":-12},"value":-6},"labelPadding":22}},"y":{"field":"y","type":"quantitative","scale":{"domain":[-0.285,0.29],"nice":false,"zero":false},"axis":{"orient":"left","title":null,"values":[-0.25,-0.2,-0.15,-0.1,-0.05,0,0.05,0.1,0.15,0.2,0.25],"labelExpr":"datum.value==0?'0':datum.value==0.2?'0.2':datum.value==-0.2?'−0.2':''","tickSize":{"condition":{"test":"datum.value==0||abs(datum.value)==0.2","value":-12},"value":-6},"labelPadding":23}}}},
{"data":{"name":"pts"},"transform":[{"filter":"datum.b=='F300W'"}],"mark":{"type":"square","size":22,"opacity":0},"encoding":{"x":{"field":"x","type":"quantitative","axis":{"orient":"top","title":"s,AB","titleFontSize":15,"titleX":311,"titleY":163,"titleAlign":"left","titleBaseline":"alphabetic","labels":false,"values":[18.5,19,19.5,20,20.5,21,21.5,22,22.5,23,23.5,24],"tickSize":{"condition":{"test":"datum.value==20||datum.value==22||datum.value==24","value":-12},"value":-6}}},"y":{"field":"y","type":"quantitative","axis":{"orient":"right","title":null,"labels":false,"values":[-0.25,-0.2,-0.15,-0.1,-0.05,0,0.05,0.1,0.15,0.2,0.25],"tickSize":{"condition":{"test":"datum.value==0||abs(datum.value)==0.2","value":-12},"value":-6}}}}},
{"data":{"values":[{"t":"F300W"}]},"mark":{"type":"text","font":"Liberation Serif","fontSize":18,"color":"#3535f5","align":"left","baseline":"alphabetic"},"encoding":{"text":{"field":"t"},"x":{"datum":19.0,"axis":null},"y":{"datum":0.148,"axis":null}}}
]}
],
"config":{
"view":{"stroke":"#444444","strokeWidth":1},
"axis":{"domain":false,"grid":false,"ticks":true,"zindex":1,"tickColor":"#222222","tickWidth":1,"tickOpacity":1,"labelFont":"DejaVu Sans","labelFontSize":15,"labelColor":"#333333","labelOverlap":false,"labelFlush":false,"titleFont":"Liberation Serif","titleFontWeight":"normal","titleColor":"#333333"},
"concat":{"spacing":0}
}
}
